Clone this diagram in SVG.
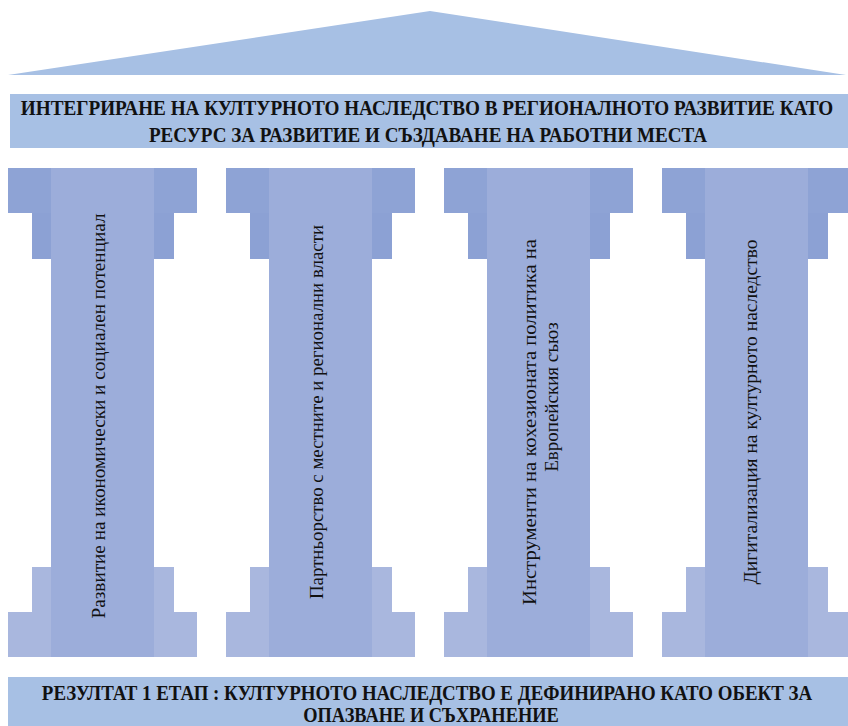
<svg xmlns="http://www.w3.org/2000/svg" width="848" height="726" viewBox="0 0 848 726">
<style>
.band{fill:#a7c0e4}
.cap1{fill:#8ea3d5}
.cap2{fill:#8ca1d4}
.shaft{fill:#9cadda}
.base{fill:#a9b7de}
.ttl{font-family:"Liberation Serif",serif;font-weight:bold;font-size:22px;fill:#111;text-anchor:middle}
.res{font-size:20px}
.ptx{font-family:"Liberation Serif",serif;font-size:19px;fill:#111;text-anchor:middle}
</style>
<defs>
<g id="pillar">
<rect class="cap1" x="0" y="168" width="189" height="45"/>
<rect class="cap2" x="24" y="213" width="142" height="46"/>
<rect class="base" x="24" y="567" width="142" height="45"/>
<rect class="base" x="0" y="612" width="189" height="45"/>
<rect class="shaft" x="43" y="168" width="103" height="489"/>
</g>
</defs>
<g id="roof"><polygon class="band" points="8,75 430,11 846,75"/></g>
<g id="title">
<rect class="band" x="10" y="94" width="838" height="54"/>
<text class="ttl" transform="translate(427,115) scale(0.872,1)">ИНТЕГРИРАНЕ НА КУЛТУРНОТО НАСЛЕДСТВО В РЕГИОНАЛНОТО РАЗВИТИЕ КАТО</text>
<text class="ttl" transform="translate(428,142) scale(0.868,1)">РЕСУРС ЗА РАЗВИТИЕ И СЪЗДАВАНЕ НА РАБОТНИ МЕСТА</text>
</g>
<g id="pillar1">
<use href="#pillar" x="8"/>
<text class="ptx" transform="translate(105,416) rotate(-90)" textLength="405" lengthAdjust="spacingAndGlyphs">Развитие на икономически и социален потенциал</text>
</g>
<g id="pillar2">
<use href="#pillar" x="226"/>
<text class="ptx" transform="translate(323,412) rotate(-90)" textLength="374" lengthAdjust="spacingAndGlyphs">Партньорство с местните и регионални власти</text>
</g>
<g id="pillar3">
<use href="#pillar" x="444"/>
<text class="ptx" transform="translate(536,422) rotate(-90)" textLength="366" lengthAdjust="spacingAndGlyphs">Инструменти на кохезионата политика на</text>
<text class="ptx" transform="translate(558,397) rotate(-90)">Европейския съюз</text>
</g>
<g id="pillar4">
<use href="#pillar" x="662"/>
<text class="ptx" transform="translate(757,412) rotate(-90)" textLength="345" lengthAdjust="spacingAndGlyphs">Дигитализация на културното наследство</text>
</g>
<g id="result">
<rect class="band" x="8" y="677" width="840" height="49"/>
<text class="ttl res" transform="translate(427,700) scale(0.945,1)">РЕЗУЛТАТ 1 ЕТАП : КУЛТУРНОТО НАСЛЕДСТВО Е ДЕФИНИРАНО КАТО ОБЕКТ ЗА</text>
<text class="ttl res" transform="translate(431,722) scale(0.92,1)">ОПАЗВАНЕ И СЪХРАНЕНИЕ</text>
</g>
<g id="connectors"/>
</svg>
